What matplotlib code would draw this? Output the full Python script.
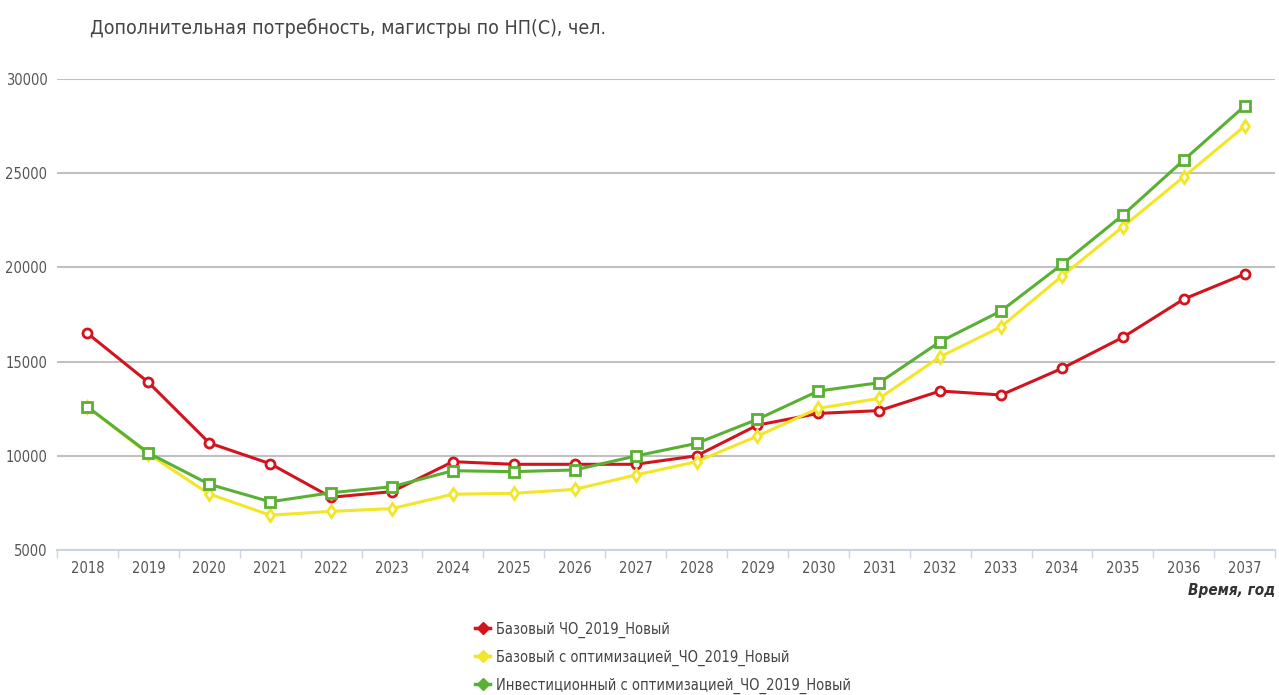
import numpy as np
import matplotlib.pyplot as plt
from matplotlib.lines import Line2D

years = [str(y) for y in range(2018, 2038)]

base = [16500, 13900, 10680, 9580, 7800, 8100, 9690, 9550, 9550, 9550,
        10000, 11630, 12250, 12400, 13440, 13230, 14640, 16290, 18320, 19650]
base_opt = [12600, 10100, 7970, 6850, 7050, 7200, 7960, 8010, 8220, 8980,
            9690, 11050, 12520, 13050, 15260, 16850, 19540, 22160, 24810, 27500]
invest_opt = [12600, 10150, 8490, 7560, 8040, 8360, 9210, 9160, 9250, 9990,
              10660, 11940, 13440, 13880, 16060, 17690, 20160, 22780, 25700, 28570]

names = ["Базовый ЧО_2019_Новый",
         "Базовый с оптимизацией_ЧО_2019_Новый",
         "Инвестиционный с оптимизацией_ЧО_2019_Новый"]
colors = ["#d2141e", "#f2e629", "#5ab033"]
markers = ["o", "d", "s"]

plt.rcParams['font.family'] = ['DejaVu Sans']
cond = dict(fontstretch='condensed')

fig = plt.figure(figsize=(12.79, 6.95), dpi=100)
ax = fig.add_axes([0.0446, 0.2086, 0.9524, 0.6777])

x = np.arange(len(years))
series = [base, base_opt, invest_opt]
for vals, c, m in zip(series, colors, markers):
    ax.plot(x, vals, color=c, lw=2.2, marker=m, markersize=6.5,
            markerfacecolor="white", markeredgecolor=c, markeredgewidth=2, zorder=3)

ax.set_ylim(5000, 30000)
ax.set_xlim(-0.5, 19.5)
ax.set_yticks([5000, 10000, 15000, 20000, 25000, 30000])
ax.set_xticks(x)
ax.set_xticklabels(years)
ax.set_xticks(np.arange(-0.5, 20, 1), minor=True)
ax.grid(axis="y", color="#c0c0c0", lw=1.5)
ax.set_axisbelow(True)
for s in ["left", "right", "top"]:
    ax.spines[s].set_visible(False)
ax.spines["bottom"].set_color("#c8d4e0")
ax.spines["bottom"].set_linewidth(1.5)
ax.tick_params(axis="x", which="major", length=0, pad=8, labelsize=10.5, labelcolor="#555555")
ax.tick_params(axis="x", which="minor", length=6, color="#c8d4e0", width=1)
ax.tick_params(axis="y", length=0, pad=7, labelsize=10.5, labelcolor="#555555")
for lab in ax.get_xticklabels() + ax.get_yticklabels():
    lab.set_fontstretch('condensed')

fig.text(0.07, 0.96, "Дополнительная потребность, магистры по НП(С), чел.",
         fontsize=14, color="#444444", va="center", **cond)
fig.text(0.997, 0.151, "Время, год", fontsize=11, fontweight="bold", style="italic",
         color="#333333", ha="right", va="center", **cond)

handles = [Line2D([0], [0], color=c, lw=2.5, marker="D", markersize=6,
                  markerfacecolor=c, markeredgecolor=c) for c in colors]
leg = fig.legend(handles, names, loc="upper left", bbox_to_anchor=(0.367, 0.114),
                 frameon=False, fontsize=10.5, handlelength=1.0, handletextpad=0.4,
                 labelspacing=0.8, borderaxespad=0)
for t in leg.get_texts():
    t.set_color("#444444")
    t.set_fontstretch('condensed')

fig.savefig("out.png", dpi=100)
